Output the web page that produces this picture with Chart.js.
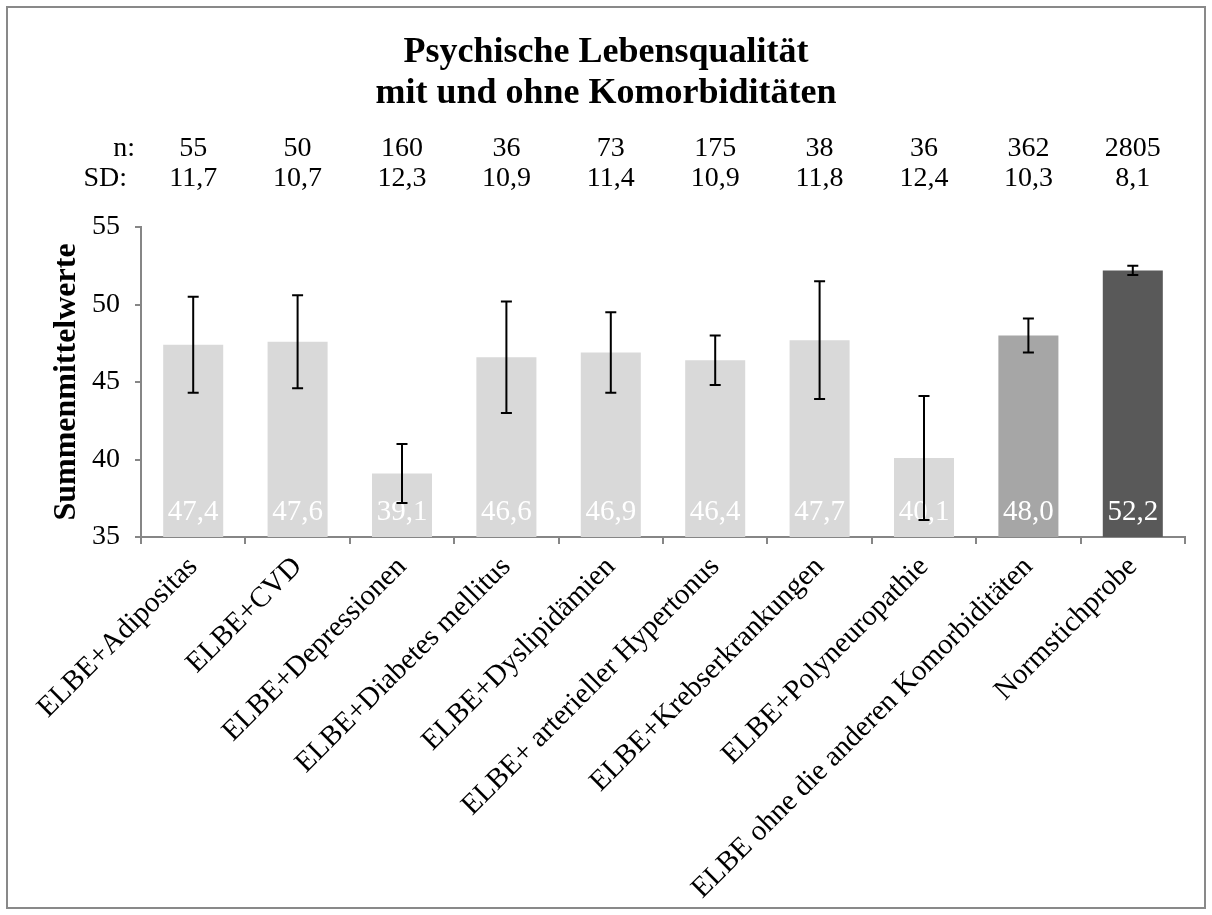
<!DOCTYPE html>
<html>
<head>
<meta charset="utf-8">
<script src="https://cdn.jsdelivr.net/npm/chart.js@4.4.1/dist/chart.umd.min.js"></script>
<style>
  html, body { margin: 0; padding: 0; background: #ffffff; }
  #wrap { width: 1212px; height: 915px; position: relative; }
</style>
</head>
<body>
<div id="wrap"><canvas id="chart"></canvas></div>
<script>
// chart values
const categories = [
  "ELBE+Adipositas",
  "ELBE+CVD",
  "ELBE+Depressionen",
  "ELBE+Diabetes mellitus",
  "ELBE+Dyslipidämien",
  "ELBE+ arterieller Hypertonus",
  "ELBE+Krebserkrankungen",
  "ELBE+Polyneuropathie",
  "ELBE ohne die anderen Komorbiditäten",
  "Normstichprobe"
];
const means = [47.4, 47.6, 39.1, 46.6, 46.9, 46.4, 47.7, 40.1, 48.0, 52.2];
// half width of the error bars
const errors = [3.1, 3.0, 1.9, 3.6, 2.6, 1.6, 3.8, 4.0, 1.1, 0.3];
const nValues = ["55", "50", "160", "36", "73", "175", "38", "36", "362", "2805"];
const sdValues = ["11,7", "10,7", "12,3", "10,9", "11,4", "10,9", "11,8", "12,4", "10,3", "8,1"];
const yTicks = [35, 40, 45, 50, 55];
const titleLines = ["Psychische Lebensqualität", "mit und ohne Komorbiditäten"];

const FONT = "'Liberation Serif', 'Times New Roman', serif";
const AXIS_GRAY = "#868686";
const barColors = means.map((_, i) => i === 9 ? "#595959" : i === 8 ? "#a6a6a6" : "#d9d9d9");

// white background + grey frame round the whole chart
const frame = {
  id: "frame",
  beforeDraw(chart) {
    const ctx = chart.ctx;
    ctx.save();
    ctx.fillStyle = "#ffffff";
    ctx.fillRect(0, 0, chart.width, chart.height);
    ctx.strokeStyle = "#898989";
    ctx.lineWidth = 2;
    ctx.strokeRect(7, 7, chart.width - 14, chart.height - 14);
    ctx.restore();
  }
};

// value labels inside the bars, then the error bars on top
const barExtras = {
  id: "barExtras",
  afterDatasetsDraw(chart) {
    const { ctx, scales: { y } } = chart;
    const meta = chart.getDatasetMeta(0);
    const base = y.getPixelForValue(y.min);
    ctx.save();
    ctx.font = `29px ${FONT}`;
    ctx.fillStyle = "#ffffff";
    ctx.textAlign = "center";
    ctx.textBaseline = "alphabetic";
    meta.data.forEach((bar, i) => {
      ctx.fillText(means[i].toFixed(1).replace(".", ","), bar.x, base - 17);
    });
    ctx.strokeStyle = "#000000";
    ctx.lineWidth = 2;
    meta.data.forEach((bar, i) => {
      const top = y.getPixelForValue(means[i] + errors[i]);
      const bot = y.getPixelForValue(means[i] - errors[i]);
      ctx.beginPath();
      ctx.moveTo(bar.x, top); ctx.lineTo(bar.x, bot);
      ctx.moveTo(bar.x - 5.5, top); ctx.lineTo(bar.x + 5.5, top);
      ctx.moveTo(bar.x - 5.5, bot); ctx.lineTo(bar.x + 5.5, bot);
      ctx.stroke();
    });
    ctx.restore();
  }
};

// title (centred on the whole picture) and the n: / SD: rows above the plot
const headerRows = {
  id: "headerRows",
  afterDraw(chart) {
    const { ctx, chartArea, scales: { x } } = chart;
    ctx.save();
    ctx.fillStyle = "#000000";
    ctx.textBaseline = "alphabetic";
    ctx.textAlign = "center";
    ctx.font = `bold 36px ${FONT}`;
    ctx.fillText(titleLines[0], chart.width / 2, 62);
    ctx.fillText(titleLines[1], chart.width / 2, 103);

    const yN = chartArea.top - 71;
    const ySD = chartArea.top - 41;
    ctx.font = `28px ${FONT}`;
    ctx.textAlign = "right";
    ctx.fillText("n:", 135, yN);
    ctx.fillText("SD:", 127, ySD);
    ctx.textAlign = "center";
    categories.forEach((c, i) => {
      const cx = x.getPixelForValue(i);
      ctx.fillText(nValues[i], cx, yN);
      ctx.fillText(sdValues[i], cx, ySD);
    });
    ctx.restore();
  }
};

new Chart(document.getElementById("chart"), {
  type: "bar",
  data: {
    labels: categories,
    datasets: [{
      data: means,
      backgroundColor: barColors,
      borderWidth: 0,
      barPercentage: 0.575,
      categoryPercentage: 1
    }]
  },
  options: {
    responsive: true,
    maintainAspectRatio: false,
    animation: false,
    layout: { padding: { left: 0, right: 27, top: 227, bottom: 0 } },
    plugins: {
      legend: { display: false },
      tooltip: { enabled: false },
      title: { display: false }
    },
    scales: {
      x: {
        grid: { drawOnChartArea: false, tickLength: 7, color: AXIS_GRAY, lineWidth: 2, offset: true },
        border: { color: AXIS_GRAY, width: 2 },
        ticks: {
          autoSkip: false,
          maxRotation: 45,
          minRotation: 45,
          padding: 6,
          color: "#000000",
          font: { family: FONT, size: 29 }
        },
        afterFit(s) { s.height = 378; }
      },
      y: {
        min: 35,
        max: 55,
        grid: { drawOnChartArea: false, tickLength: 6, color: AXIS_GRAY, lineWidth: 2 },
        border: { color: AXIS_GRAY, width: 2 },
        ticks: { padding: 15, color: "#000000", font: { family: FONT, size: 28 } },
        afterBuildTicks(s) { s.ticks = yTicks.map(v => ({ value: v })); },
        title: {
          display: true,
          text: "Summenmittelwerte",
          color: "#000000",
          font: { family: FONT, size: 32, weight: "bold" },
          padding: { top: 48, bottom: 0 }
        },
        afterFit(s) { s.width = 141; }
      }
    }
  },
  plugins: [frame, barExtras, headerRows]
});
</script>
</body>
</html>
